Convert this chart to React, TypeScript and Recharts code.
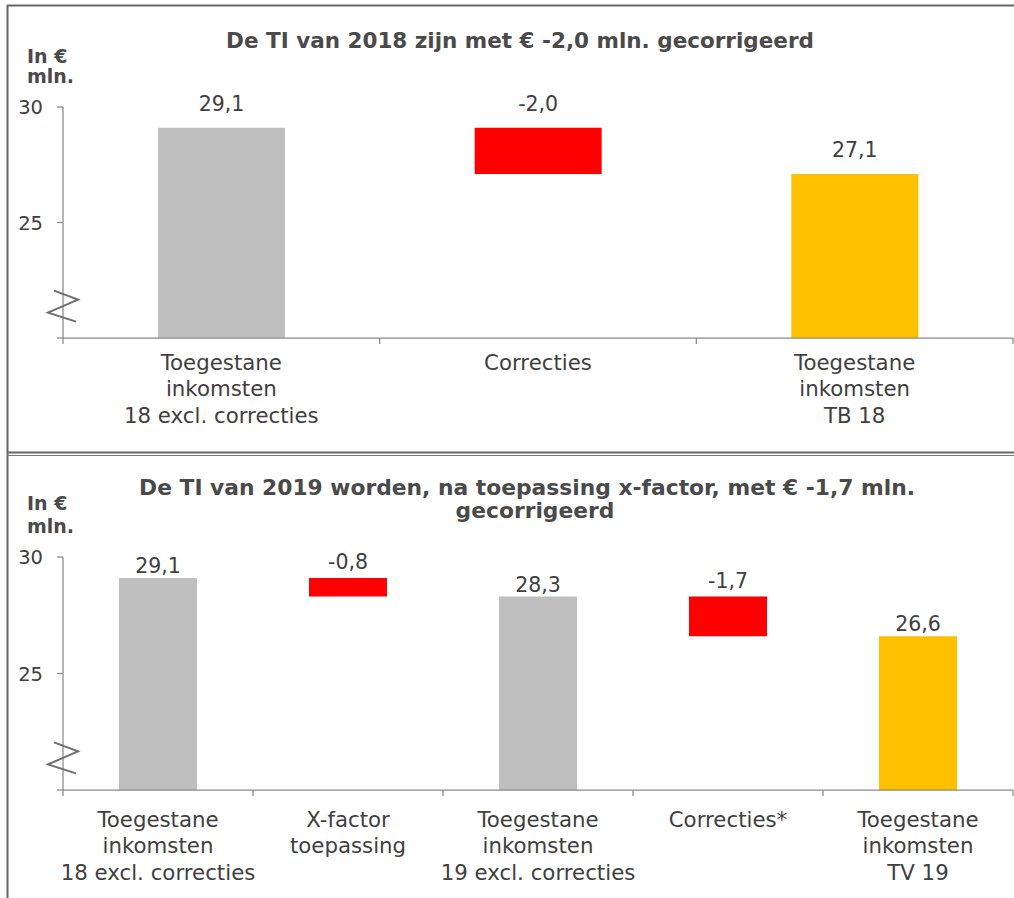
import React from 'react';
import { BarChart, Bar, XAxis, YAxis, Cell, LabelList } from 'recharts';

const FONT = '"DejaVu Sans", Verdana, sans-serif';

// ---- data: panel 2018 ----
const title2018 = ['De TI van 2018 zijn met € -2,0 mln. gecorrigeerd'];
const categories2018 = [
  'Toegestane\ninkomsten\n18 excl. correcties',
  'Correcties',
  'Toegestane\ninkomsten\nTB 18',
];
const values2018 = [29.1, -2.0, 27.1];
const kinds2018 = ['total', 'delta', 'result'];

// ---- data: panel 2019 ----
const title2019 = ['De TI van 2019 worden, na toepassing x-factor, met € -1,7 mln.', 'gecorrigeerd'];
const categories2019 = [
  'Toegestane\ninkomsten\n18 excl. correcties',
  'X-factor\ntoepassing',
  'Toegestane\ninkomsten\n19 excl. correcties',
  'Correcties*',
  'Toegestane\ninkomsten\nTV 19',
];
const values2019 = [29.1, -0.8, 28.3, -1.7, 26.6];
const kinds2019 = ['total', 'delta', 'total', 'delta', 'result'];

// ---- axis ----
const yDomain = [20, 30];
const yTicks = [20, 25, 30];
const yTickLabels = ['', '25', '30'];
const axisBreakAt = 21.4;
const unitLabel = ['In €', 'mln.'];

const COLORS: Record<string, string> = { total: '#bfbfbf', delta: '#ff0000', result: '#ffc000' };
const AXIS = '#8a8a8a';
const TEXT = '#404040';

function buildRows(cats: string[], vals: number[], kinds: string[]) {
  let running = 0;
  return cats.map((name, i) => {
    const v = vals[i];
    let range: number[];
    if (kinds[i] === 'delta') {
      const end = running + v;
      range = [Math.min(running, end), Math.max(running, end)];
      running = end;
    } else {
      range = [0, v];
      running = v;
    }
    return { name, range, kind: kinds[i], label: v.toFixed(1).replace('.', ',') };
  });
}

const W = 1014;
const Y_AXIS_W = 63;
const M_RIGHT = 1;

type PanelProps = {
  rows: any[];
  height: number;
  top: number;
  marginTop: number;
  xAxisHeight: number;
  barSize: number;
  gapTotal: number;
  gapDelta: number;
  catDy: number;
};

function Panel({ rows, height, top, marginTop, xAxisHeight, barSize, gapTotal, gapDelta, catDy }: PanelProps) {
  const n = rows.length;
  const band = (W - Y_AXIS_W - M_RIGHT) / n;

  const yTick = (p: any) => {
    const { x, y, payload } = p;
    const ax = x + 6;
    if (payload.value === axisBreakAt) {
      return (
        <polyline
          points={`${ax - 9},${y - 15} ${ax + 15},${y - 6} ${ax - 15},${y + 7} ${ax + 13},${y + 16}`}
          fill="none"
          stroke="#6e6e6e"
          strokeWidth={2}
        />
      );
    }
    const idx = yTicks.indexOf(payload.value);
    return (
      <g>
        <line x1={x} x2={ax} y1={y} y2={y} stroke={AXIS} strokeWidth={1.25} />
        <text x={x - 14} y={y + 7} textAnchor="end" fontFamily={FONT} fontSize={19.5} fill={TEXT}>
          {idx >= 0 ? yTickLabels[idx] : ''}
        </text>
      </g>
    );
  };

  const xTick = (p: any) => {
    const { x, y, payload } = p;
    const i = payload.index ?? p.index ?? 0;
    const lines = String(payload.value).split('\n');
    const left = x - band / 2;
    const right = x + band / 2;
    return (
      <g>
        <line x1={left} x2={left} y1={y - 6} y2={y} stroke={AXIS} strokeWidth={1.25} />
        {i === n - 1 && <line x1={right} x2={right} y1={y - 6} y2={y} stroke={AXIS} strokeWidth={1.25} />}
        <text textAnchor="middle" fontFamily={FONT} fontSize={21.3} fill={TEXT}>
          {lines.map((l, k) => (
            <tspan key={k} x={x} y={y + catDy + k * 26.3}>
              {l}
            </tspan>
          ))}
        </text>
      </g>
    );
  };

  const labelContent = (p: any) => {
    const { x, y, width, index } = p;
    const row = rows[index];
    const gap = row.kind === 'delta' ? gapDelta : gapTotal;
    return (
      <text x={x + width / 2} y={y - gap} textAnchor="middle" fontFamily={FONT} fontSize={20.5} fill={TEXT}>
        {row.label}
      </text>
    );
  };

  return (
    <div style={{ position: 'absolute', left: 0, top, width: W, height }}>
      <BarChart
        width={W}
        height={height}
        data={rows}
        margin={{ top: marginTop, right: M_RIGHT, left: 0, bottom: 0 }}
        barSize={barSize}
      >
        <XAxis
          dataKey="name"
          type="category"
          height={xAxisHeight}
          axisLine={{ stroke: AXIS, strokeWidth: 1.25 }}
          tickLine={false}
          tickSize={6}
          tickMargin={0}
          interval={0}
          tick={xTick}
        />
        <YAxis
          type="number"
          domain={yDomain}
          allowDataOverflow
          ticks={[...yTicks, axisBreakAt]}
          interval={0}
          width={Y_AXIS_W}
          axisLine={{ stroke: AXIS, strokeWidth: 1.25 }}
          tickLine={false}
          tickSize={6}
          tickMargin={0}
          tick={yTick}
        />
        <Bar dataKey="range" isAnimationActive={false}>
          {rows.map((r, i) => (
            <Cell key={i} fill={COLORS[r.kind]} />
          ))}
          <LabelList dataKey="label" content={labelContent} />
        </Bar>
      </BarChart>
    </div>
  );
}

export default function App() {
  const rows2018 = buildRows(categories2018, values2018, kinds2018);
  const rows2019 = buildRows(categories2019, values2019, kinds2019);
  const boldText = { fontFamily: FONT, fontWeight: 700 as const, fill: '#4a4a4a' };
  return (
    <div style={{ position: 'absolute', left: 0, top: 0, width: W, height: 898, background: '#fff', overflow: 'hidden' }}>
      <Panel rows={rows2018} top={0} height={452} marginTop={107} xAxisHeight={114} barSize={127} gapTotal={17} gapDelta={17} catDy={26} />
      <Panel rows={rows2019} top={455} height={443} marginTop={102} xAxisHeight={108} barSize={78} gapTotal={5} gapDelta={9} catDy={31} />
      <svg width={W} height={898} style={{ position: 'absolute', left: 0, top: 0, pointerEvents: 'none' }}>
        <line x1={7.5} x2={7.5} y1={5} y2={898} stroke="#666" strokeWidth={2} />
        <line x1={7} x2={W} y1={5.5} y2={5.5} stroke="#666" strokeWidth={2} />
        <line x1={7} x2={W} y1={452.5} y2={452.5} stroke="#666" strokeWidth={2} />
        <line x1={7} x2={W} y1={455.5} y2={455.5} stroke="#777" strokeWidth={1} />
        <text x={520} y={48} textAnchor="middle" fontSize={21.5} {...boldText}>{title2018[0]}</text>
        <text x={527} y={495} textAnchor="middle" fontSize={21.8} {...boldText}>{title2019[0]}</text>
        <text x={535} y={518} textAnchor="middle" fontSize={21.8} {...boldText}>{title2019[1]}</text>
        <text x={27} y={63} fontSize={19} {...boldText}>{unitLabel[0]}</text>
        <text x={27} y={83} fontSize={19} {...boldText}>{unitLabel[1]}</text>
        <text x={27} y={510} fontSize={19} {...boldText}>{unitLabel[0]}</text>
        <text x={27} y={533} fontSize={19} {...boldText}>{unitLabel[1]}</text>
      </svg>
    </div>
  );
}
